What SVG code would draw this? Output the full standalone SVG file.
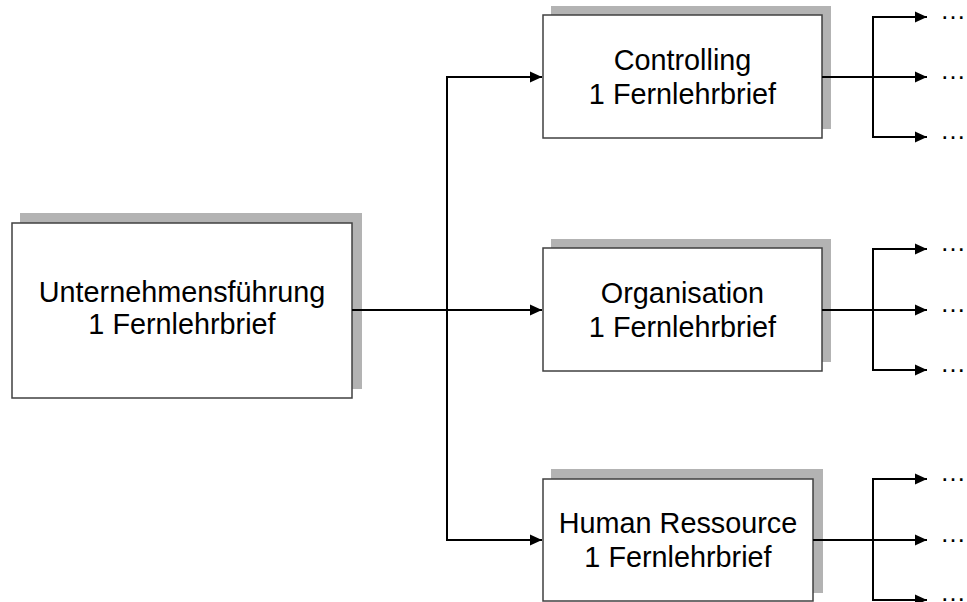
<svg xmlns="http://www.w3.org/2000/svg" width="967" height="602" viewBox="0 0 967 602">
<style>
.shadow{fill:#b3b3b3;stroke:none}
.box{fill:#ffffff;stroke:#404040;stroke-width:1.5}
.lbl{font-family:"Liberation Sans",Arial,sans-serif;font-size:28.8px;fill:#000;text-anchor:middle}
.dots{font-family:"Liberation Sans",Arial,sans-serif;font-size:26px;fill:#000}
.conn{fill:none;stroke:#000;stroke-width:2}
</style>
<defs>
<marker id="arr" markerUnits="userSpaceOnUse" markerWidth="13" markerHeight="12" refX="12" refY="6" orient="auto">
<path d="M0,0.5 L12,6 L0,11.5 z" fill="#000"/>
</marker>
</defs>
<rect width="967" height="602" fill="#fff"/>
<g id="node-main">
<rect class="shadow" x="20" y="213" width="342" height="176"/>
<rect class="box" x="12" y="223" width="340" height="175"/>
<text class="lbl" x="182" y="302">Unternehmensführung</text>
<text class="lbl" x="182" y="334">1 Fernlehrbrief</text>
</g>
<g id="node-controlling">
<rect class="shadow" x="551" y="6" width="280" height="123"/>
<rect class="box" x="543" y="15" width="279" height="123"/>
<text class="lbl" x="682.5" y="69.5">Controlling</text>
<text class="lbl" x="682.5" y="104">1 Fernlehrbrief</text>
</g>
<g id="node-organisation">
<rect class="shadow" x="551" y="239" width="280" height="123"/>
<rect class="box" x="543" y="248" width="279" height="123"/>
<text class="lbl" x="682.5" y="303">Organisation</text>
<text class="lbl" x="682.5" y="337">1 Fernlehrbrief</text>
</g>
<g id="node-hr">
<rect class="shadow" x="551" y="469" width="272" height="124"/>
<rect class="box" x="543" y="479" width="270" height="122"/>
<text class="lbl" x="678" y="533">Human Ressource</text>
<text class="lbl" x="678" y="567">1 Fernlehrbrief</text>
</g>
<g id="connectors">
<path class="conn" d="M352,310 H542" marker-end="url(#arr)"/>
<path class="conn" d="M447,310 V77 H542" marker-end="url(#arr)"/>
<path class="conn" d="M447,310 V540 H542" marker-end="url(#arr)"/>
<path class="conn" d="M822,77 H927" marker-end="url(#arr)"/>
<path class="conn" d="M873,77 V17 H927" marker-end="url(#arr)"/>
<path class="conn" d="M873,77 V137 H927" marker-end="url(#arr)"/>
<path class="conn" d="M822,310 H927" marker-end="url(#arr)"/>
<path class="conn" d="M873,310 V249 H927" marker-end="url(#arr)"/>
<path class="conn" d="M873,310 V370 H927" marker-end="url(#arr)"/>
<path class="conn" d="M813,540 H927" marker-end="url(#arr)"/>
<path class="conn" d="M873,540 V479 H927" marker-end="url(#arr)"/>
<path class="conn" d="M873,540 V600 H927" marker-end="url(#arr)"/>
</g>
<g id="dots">
<text class="dots" x="940" y="19">…</text>
<text class="dots" x="940" y="79">…</text>
<text class="dots" x="940" y="139">…</text>
<text class="dots" x="940" y="251">…</text>
<text class="dots" x="940" y="312">…</text>
<text class="dots" x="940" y="372">…</text>
<text class="dots" x="940" y="481">…</text>
<text class="dots" x="940" y="542">…</text>
<text class="dots" x="940" y="601">…</text>
</g>
</svg>
